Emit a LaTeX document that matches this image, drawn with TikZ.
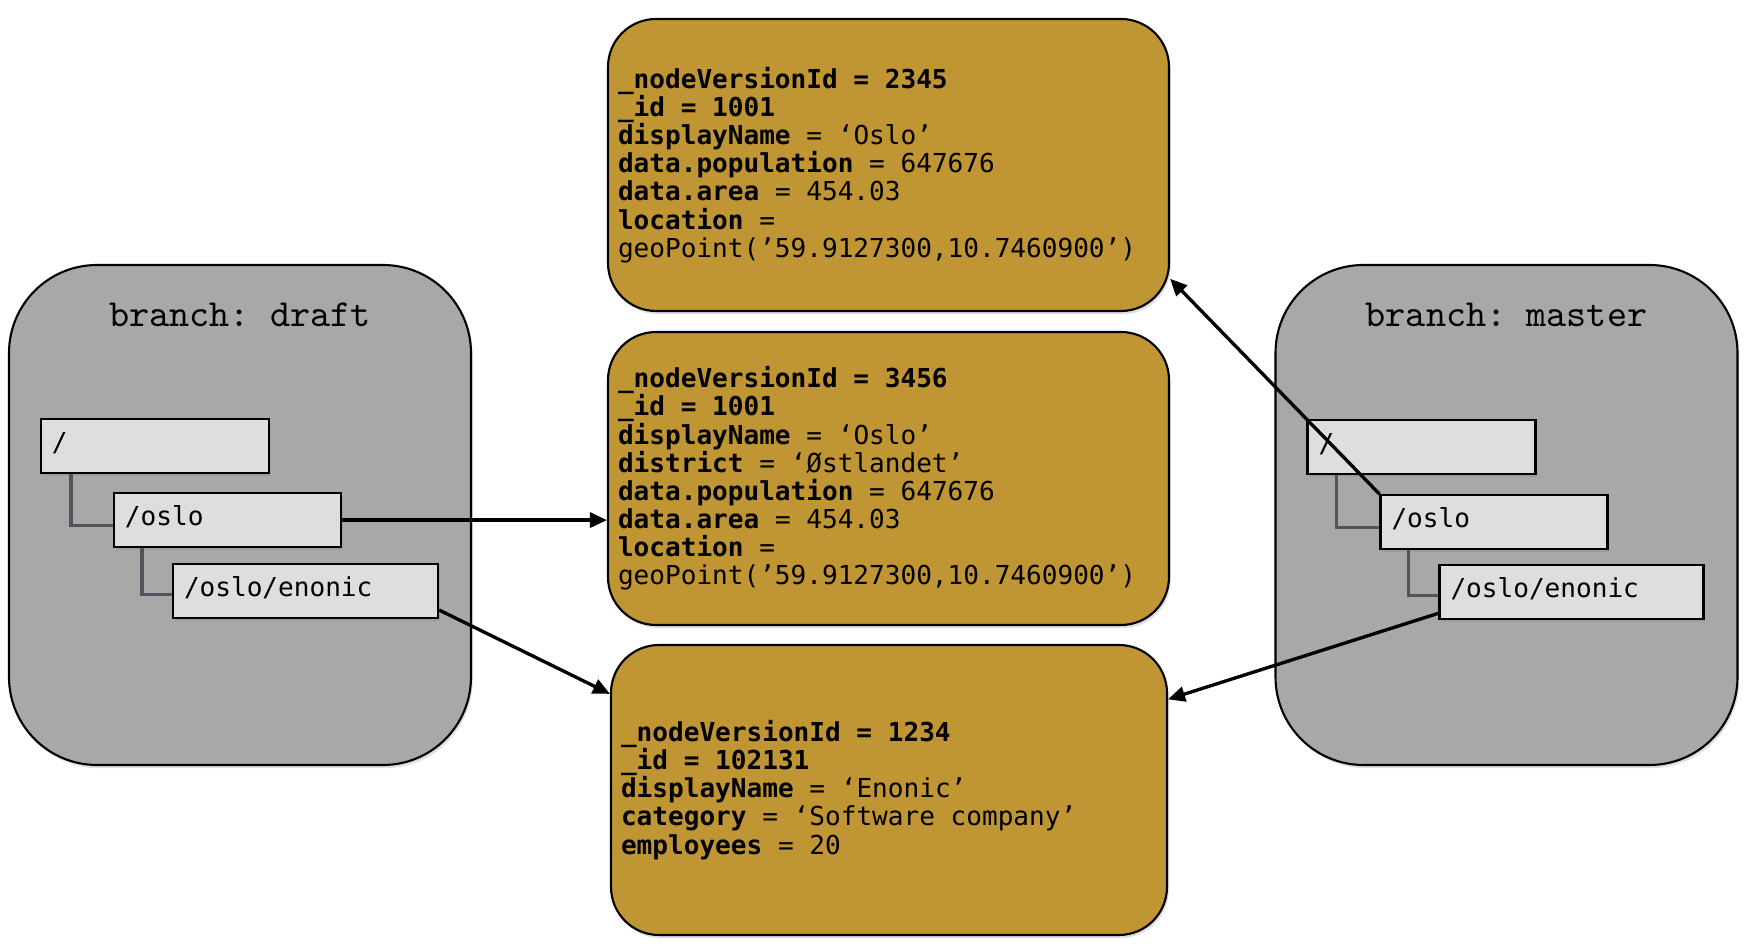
\documentclass[tikz,border=0pt]{standalone}
\usepackage{fontspec}
\usepackage{tikz}
\usetikzlibrary{arrows.meta, positioning, shadows}
\newfontfamily\codefont{DejaVu Sans Mono}
\definecolor{branchGray}{RGB}{167,168,167}
\definecolor{pathGray}{RGB}{221,222,224}
\definecolor{versionGold}{RGB}{192,149,51}
\definecolor{treeGray}{RGB}{80,85,92}
\tikzset{
    softshadow/.style={drop shadow={shadow xshift=0.5pt, shadow yshift=-0.9pt, opacity=0.25}},
    codetext/.style={font=\fontsize{7.42}{8}\selectfont\codefont\frenchspacing,
        execute at begin node={\spaceskip=0.602em\xspaceskip=0.602em\relax}},
    branchbox/.style={draw, line width=0.6pt, fill=branchGray, rounded corners=0.88cm,
        minimum width=4.62cm, minimum height=5cm, softshadow},
    branchtitle/.style={inner sep=0pt, font=\fontsize{10.9}{12}\selectfont\ttfamily\frenchspacing},
    pathbox/.style={draw, line width=0.6pt, fill=pathGray, anchor=north west,
        minimum height=0.54cm, inner xsep=0.11cm, inner ysep=0pt, align=left,
        codetext, softshadow},
    versionbox/.style={draw, line width=0.6pt, fill=versionGold, rounded corners=0.48cm,
        minimum width=5.61cm, minimum height=2.92cm, text width=5.41cm,
        inner xsep=0.1cm, align=left, codetext, softshadow},
    treeline/.style={treeGray, line width=0.9pt},
    refarrow/.style={-{Triangle[length=0.17cm, width=0.15cm]}, line width=0.95pt}
}

\begin{document}
\begin{tikzpicture}
    \useasboundingbox (0,0) rectangle (17.49,-9.48);
    % branches
    \node[branchbox] (dBranch) at (2.40,-5.15) {};
    \node[branchbox] (mBranch) at (15.065,-5.15) {};
    \node[branchtitle] (dTitle) at ([yshift=-0.51cm]dBranch.north) {branch: draft};
    \node[branchtitle] (mTitle) at ([yshift=-0.51cm]mBranch.north) {branch: master};
    % draft tree
    \node[pathbox, text width=2.06cm, below right=1.54cm and 0.32cm of dBranch.north west] (dRoot) {/\strut};
    \node[pathbox, text width=2.05cm, below right=0.18cm and 0.73cm of dRoot.south west] (dOslo) {/oslo\strut};
    \node[pathbox, text width=2.43cm, below right=0.15cm and 0.59cm of dOslo.south west] (dEnonic) {/oslo/enonic\strut};
    \draw[treeline] ([xshift=0.31cm]dRoot.south west) |- ([yshift=-0.05cm]dOslo.west);
    \draw[treeline] ([xshift=0.29cm]dOslo.south west) |- ([yshift=-0.035cm]dEnonic.west);
    % master tree
    \node[pathbox, text width=2.06cm, below right=1.55cm and 0.32cm of mBranch.north west] (mRoot) {/\strut};
    \node[pathbox, text width=2.05cm, below right=0.19cm and 0.73cm of mRoot.south west] (mOslo) {/oslo\strut};
    \node[pathbox, text width=2.42cm, below right=0.14cm and 0.59cm of mOslo.south west] (mEnonic) {/oslo/enonic\strut};
    \draw[treeline] ([xshift=0.30cm]mRoot.south west) |- ([yshift=-0.05cm]mOslo.west);
    \draw[treeline] ([xshift=0.29cm]mOslo.south west) |- ([yshift=-0.035cm]mEnonic.west);
    % node versions
    \node[versionbox] (gTop) at (8.885,-1.65) {%
        \textbf{\_nodeVersionId = 2345}\\
        \textbf{\_id = 1001}\\
        \textbf{displayName} = ‘Oslo’\\
        \textbf{data.population} = 647676\\
        \textbf{data.area} = 454.03\\
        \textbf{location} =\\
        geoPoint(’59.9127300,10.7460900’)};
    \node[versionbox, minimum height=2.93cm] (gMid) at (8.885,-4.785) {%
        \textbf{\_nodeVersionId = 3456}\\
        \textbf{\_id = 1001}\\
        \textbf{displayName} = ‘Oslo’\\
        \textbf{district} = ‘Østlandet’\\
        \textbf{data.population} = 647676\\
        \textbf{data.area} = 454.03\\
        \textbf{location} =\\
        geoPoint(’59.9127300,10.7460900’)};
    \node[versionbox, minimum width=5.56cm, minimum height=2.90cm, text width=5.36cm] (gBot) at (8.89,-7.90) {%
        \textbf{\_nodeVersionId = 1234}\\
        \textbf{\_id = 102131}\\
        \textbf{displayName} = ‘Enonic’\\
        \textbf{category} = ‘Software company’\\
        \textbf{employees} = 20};
    % references
    \draw[refarrow] (dOslo.east) -- (dOslo.east -| gMid.west);
    \draw[refarrow] (dEnonic.-8) -- (gBot.161.6);
    \draw[refarrow] (mOslo.north west) -- (gTop.-22.5);
    \draw[refarrow] (mEnonic.189) -- (gBot.18.3);
\end{tikzpicture}
\end{document}
